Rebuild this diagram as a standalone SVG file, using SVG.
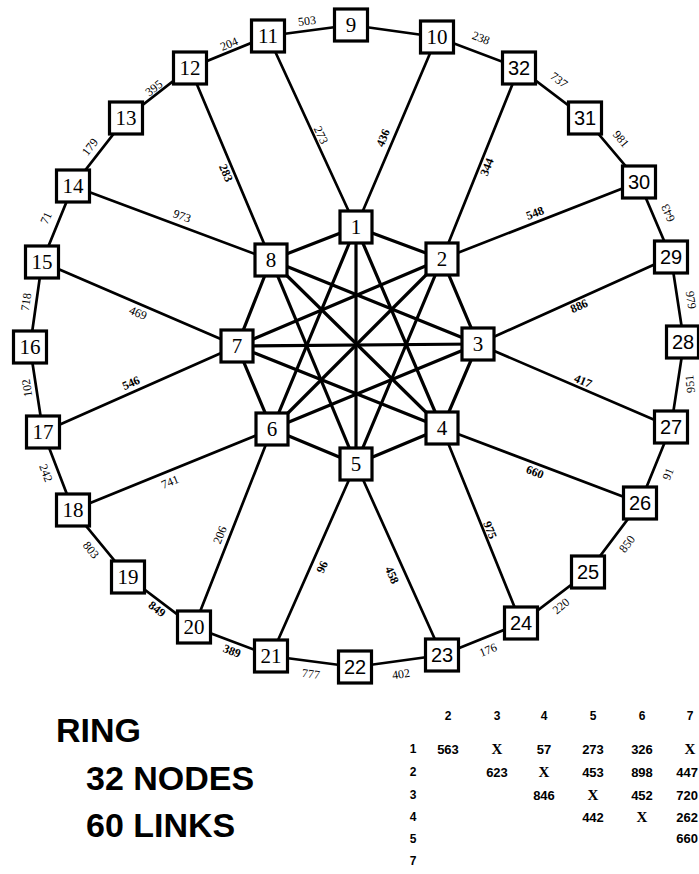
<svg xmlns="http://www.w3.org/2000/svg" width="699" height="874" viewBox="0 0 699 874">
<style>
.bg{fill:#fff}
.ln{stroke:#000;stroke-width:2.7;fill:none;stroke-linecap:round}
.in{stroke:#000;stroke-width:3.2;fill:none;stroke-linecap:round}
.box{fill:#fff;stroke:#000;stroke-width:3.2}
.nt{font-family:"Liberation Serif",serif;font-size:21px;text-anchor:middle;dominant-baseline:central;fill:#000}
.ns{font-family:"Liberation Sans",sans-serif;font-size:20px;text-anchor:middle;dominant-baseline:central;fill:#000}
.el{font-family:"Liberation Serif",serif;font-size:12px;text-anchor:middle;dominant-baseline:central;fill:#000}
.eb{font-family:"Liberation Serif",serif;font-size:12px;font-weight:bold;text-anchor:middle;dominant-baseline:central;fill:#000}
.big{font-family:"Liberation Sans",sans-serif;font-size:34px;font-weight:bold;fill:#000}
.tb{font-family:"Liberation Sans",sans-serif;font-size:13px;font-weight:bold;text-anchor:middle;fill:#000}
.te{font-family:"Liberation Sans",sans-serif;font-size:13px;font-weight:bold;text-anchor:end;fill:#000}
.th{font-family:"Liberation Sans",sans-serif;font-size:12px;font-weight:bold;text-anchor:middle;fill:#000}
.tx{font-family:"Liberation Serif",serif;font-size:15px;font-weight:bold;text-anchor:middle;fill:#000}
</style>
<rect class="bg" x="0" y="0" width="699" height="874"/>
<g id="connectors">
<polyline class="ln" points="351,25 437,37 519,68 585,118 639,182 671,257 684,342 671,427 640,503 588,572 521,623 442,655 355,667 271,656 194,627 128,577 73,510 43,432 30,347 42,262 73,186 126,118 190,68 268,36 351,25"/>
<line class="ln" x1="356" y1="227" x2="268" y2="36"/>
<line class="ln" x1="356" y1="227" x2="437" y2="37"/>
<line class="ln" x1="442" y1="259" x2="519" y2="68"/>
<line class="ln" x1="442" y1="259" x2="639" y2="182"/>
<line class="ln" x1="478" y1="344" x2="671" y2="257"/>
<line class="ln" x1="478" y1="344" x2="671" y2="427"/>
<line class="ln" x1="442" y1="428" x2="640" y2="503"/>
<line class="ln" x1="442" y1="428" x2="521" y2="623"/>
<line class="ln" x1="356" y1="464" x2="442" y2="655"/>
<line class="ln" x1="356" y1="464" x2="271" y2="656"/>
<line class="ln" x1="272" y1="429" x2="194" y2="627"/>
<line class="ln" x1="272" y1="429" x2="73" y2="510"/>
<line class="ln" x1="237" y1="346" x2="43" y2="432"/>
<line class="ln" x1="237" y1="346" x2="42" y2="262"/>
<line class="ln" x1="271" y1="260" x2="73" y2="186"/>
<line class="ln" x1="271" y1="260" x2="190" y2="68"/>
<polygon class="in" points="356,227 442,259 478,344 442,428 356,464 272,429 237,346 271,260"/>
<line class="in" x1="356" y1="227" x2="442" y2="428"/>
<line class="in" x1="356" y1="227" x2="272" y2="429"/>
<line class="in" x1="442" y1="259" x2="356" y2="464"/>
<line class="in" x1="442" y1="259" x2="237" y2="346"/>
<line class="in" x1="478" y1="344" x2="272" y2="429"/>
<line class="in" x1="478" y1="344" x2="271" y2="260"/>
<line class="in" x1="442" y1="428" x2="237" y2="346"/>
<line class="in" x1="356" y1="464" x2="271" y2="260"/>
<line class="in" x1="356" y1="227" x2="356" y2="464"/>
<line class="in" x1="442" y1="259" x2="272" y2="429"/>
<line class="in" x1="478" y1="344" x2="237" y2="346"/>
<line class="in" x1="442" y1="428" x2="271" y2="260"/>
</g>
<g id="edge-labels">
<text class="el" transform="translate(307,21) rotate(-7)">503</text>
<text class="el" transform="translate(481,38) rotate(21)">238</text>
<text class="el" transform="translate(559,80) rotate(37)">737</text>
<text class="el" transform="translate(621,139) rotate(50)">981</text>
<text class="el" transform="translate(668,213) rotate(-113)">643</text>
<text class="el" transform="translate(691,300) rotate(81)">979</text>
<text class="el" transform="translate(690,384) rotate(-96)">951</text>
<text class="el" transform="translate(668,474) rotate(-68)">91</text>
<text class="el" transform="translate(627,544) rotate(-53)">850</text>
<text class="el" transform="translate(561,606) rotate(-40)">220</text>
<text class="el" transform="translate(488,650) rotate(-22)">176</text>
<text class="el" transform="translate(401,674) rotate(-8)">402</text>
<text class="el" transform="translate(311,674) rotate(7)">777</text>
<text class="eb" transform="translate(232,651) rotate(21)">389</text>
<text class="eb" transform="translate(157,609) rotate(37)">849</text>
<text class="el" transform="translate(91,550) rotate(51)">803</text>
<text class="el" transform="translate(46,473) rotate(69)">242</text>
<text class="el" transform="translate(27,388) rotate(-99)">102</text>
<text class="el" transform="translate(26,302) rotate(-82)">718</text>
<text class="el" transform="translate(46,218) rotate(-66)">71</text>
<text class="el" transform="translate(90,147) rotate(-52)">179</text>
<text class="el" transform="translate(154,88) rotate(-38)">395</text>
<text class="el" transform="translate(229,44) rotate(-22)">204</text>
<text class="el" transform="translate(321,135) rotate(65)">273</text>
<text class="eb" transform="translate(383,138) rotate(-67)">436</text>
<text class="eb" transform="translate(226,173) rotate(67)">283</text>
<text class="eb" transform="translate(487,167) rotate(-68)">344</text>
<text class="eb" transform="translate(535,213) rotate(-21)">548</text>
<text class="eb" transform="translate(579,306) rotate(-24)">886</text>
<text class="eb" transform="translate(583,381) rotate(23)">417</text>
<text class="eb" transform="translate(535,472) rotate(21)">660</text>
<text class="eb" transform="translate(490,530) rotate(68)">975</text>
<text class="eb" transform="translate(392,575) rotate(66)">458</text>
<text class="eb" transform="translate(322,567) rotate(-66)">96</text>
<text class="el" transform="translate(220,535) rotate(-68)">206</text>
<text class="el" transform="translate(170,482) rotate(-22)">741</text>
<text class="eb" transform="translate(131,383) rotate(-24)">546</text>
<text class="el" transform="translate(138,313) rotate(23)">469</text>
<text class="el" transform="translate(182,216) rotate(20)">973</text>
</g>
<g id="n1"><rect class="box" x="340" y="211" width="32" height="32"/><text class="nt" x="356" y="227">1</text></g>
<g id="n2"><rect class="box" x="426" y="243" width="32" height="32"/><text class="nt" x="442" y="259">2</text></g>
<g id="n3"><rect class="box" x="462" y="328" width="32" height="32"/><text class="nt" x="478" y="344">3</text></g>
<g id="n4"><rect class="box" x="426" y="412" width="32" height="32"/><text class="nt" x="442" y="428">4</text></g>
<g id="n5"><rect class="box" x="340" y="448" width="32" height="32"/><text class="nt" x="356" y="464">5</text></g>
<g id="n6"><rect class="box" x="256" y="413" width="32" height="32"/><text class="nt" x="272" y="429">6</text></g>
<g id="n7"><rect class="box" x="221" y="330" width="32" height="32"/><text class="nt" x="237" y="346">7</text></g>
<g id="n8"><rect class="box" x="255" y="244" width="32" height="32"/><text class="nt" x="271" y="260">8</text></g>
<g id="n9"><rect class="box" x="334.5" y="9" width="33" height="32"/><text class="nt" x="351" y="25">9</text></g>
<g id="n10"><rect class="box" x="420.5" y="21" width="33" height="32"/><text class="nt" x="437" y="37">10</text></g>
<g id="n11"><rect class="box" x="251.5" y="20" width="33" height="32"/><text class="nt" x="268" y="36">11</text></g>
<g id="n12"><rect class="box" x="173.5" y="52" width="33" height="32"/><text class="nt" x="190" y="68">12</text></g>
<g id="n13"><rect class="box" x="109.5" y="102" width="33" height="32"/><text class="nt" x="126" y="118">13</text></g>
<g id="n14"><rect class="box" x="56.5" y="170" width="33" height="32"/><text class="nt" x="73" y="186">14</text></g>
<g id="n15"><rect class="box" x="25.5" y="246" width="33" height="32"/><text class="nt" x="42" y="262">15</text></g>
<g id="n16"><rect class="box" x="13.5" y="331" width="33" height="32"/><text class="nt" x="30" y="347">16</text></g>
<g id="n17"><rect class="box" x="26.5" y="416" width="33" height="32"/><text class="nt" x="43" y="432">17</text></g>
<g id="n18"><rect class="box" x="56.5" y="494" width="33" height="32"/><text class="nt" x="73" y="510">18</text></g>
<g id="n19"><rect class="box" x="111.5" y="561" width="33" height="32"/><text class="nt" x="128" y="577">19</text></g>
<g id="n20"><rect class="box" x="177.5" y="611" width="33" height="32"/><text class="nt" x="194" y="627">20</text></g>
<g id="n21"><rect class="box" x="254.5" y="640" width="33" height="32"/><text class="nt" x="271" y="656">21</text></g>
<g id="n22"><rect class="box" x="338.5" y="651" width="33" height="32"/><text class="ns" x="355" y="667">22</text></g>
<g id="n23"><rect class="box" x="425.5" y="639" width="33" height="32"/><text class="ns" x="442" y="655">23</text></g>
<g id="n24"><rect class="box" x="504.5" y="607" width="33" height="32"/><text class="ns" x="521" y="623">24</text></g>
<g id="n25"><rect class="box" x="571.5" y="556" width="33" height="32"/><text class="ns" x="588" y="572">25</text></g>
<g id="n26"><rect class="box" x="623.5" y="487" width="33" height="32"/><text class="ns" x="640" y="503">26</text></g>
<g id="n27"><rect class="box" x="654.5" y="411" width="33" height="32"/><text class="ns" x="671" y="427">27</text></g>
<g id="n28"><rect class="box" x="666.5" y="326" width="32" height="32"/><text class="ns" x="683" y="342">28</text></g>
<g id="n29"><rect class="box" x="654.5" y="241" width="33" height="32"/><text class="ns" x="671" y="257">29</text></g>
<g id="n30"><rect class="box" x="622.5" y="166" width="33" height="32"/><text class="ns" x="639" y="182">30</text></g>
<g id="n31"><rect class="box" x="568.5" y="102" width="33" height="32"/><text class="ns" x="585" y="118">31</text></g>
<g id="n32"><rect class="box" x="502.5" y="52" width="33" height="32"/><text class="ns" x="519" y="68">32</text></g>
<g id="caption">
<text class="big" x="56" y="742">RING</text>
<text class="big" x="86" y="790">32 NODES</text>
<text class="big" x="86" y="837">60 LINKS</text>
</g>
<g id="table">
<text class="th" x="448" y="720">2</text>
<text class="th" x="497" y="720">3</text>
<text class="th" x="544" y="720">4</text>
<text class="th" x="593" y="720">5</text>
<text class="th" x="642" y="720">6</text>
<text class="th" x="690" y="720">7</text>
<text class="th" x="413" y="753">1</text>
<text class="th" x="413" y="776">2</text>
<text class="th" x="413" y="799">3</text>
<text class="th" x="413" y="821">4</text>
<text class="th" x="413" y="843">5</text>
<text class="th" x="413" y="865">7</text>
<text class="tb" x="448" y="754">563</text>
<text class="tx" x="497" y="754">X</text>
<text class="tb" x="544" y="754">57</text>
<text class="tb" x="593" y="754">273</text>
<text class="tb" x="642" y="754">326</text>
<text class="tx" x="690" y="754">X</text>
<text class="tb" x="497" y="777">623</text>
<text class="tx" x="544" y="777">X</text>
<text class="tb" x="593" y="777">453</text>
<text class="tb" x="642" y="777">898</text>
<text class="te" x="698" y="777">447</text>
<text class="tb" x="544" y="800">846</text>
<text class="tx" x="593" y="800">X</text>
<text class="tb" x="642" y="800">452</text>
<text class="te" x="698" y="800">720</text>
<text class="tb" x="593" y="822">442</text>
<text class="tx" x="642" y="822">X</text>
<text class="te" x="698" y="822">262</text>
<text class="te" x="698" y="843">660</text>
</g>
</svg>
